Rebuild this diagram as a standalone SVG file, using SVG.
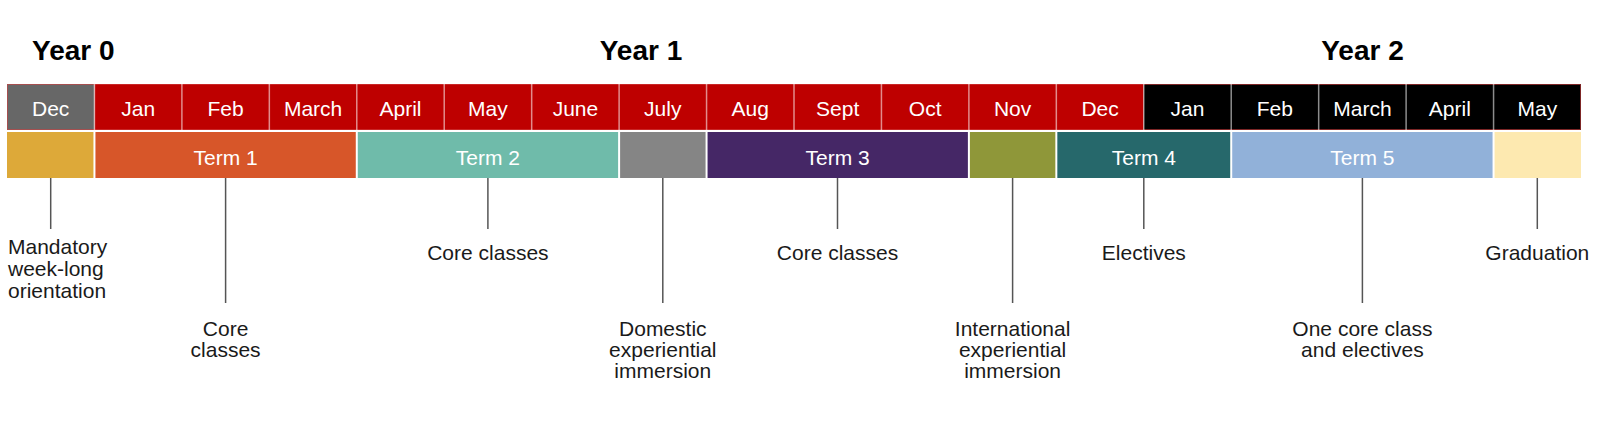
<svg xmlns="http://www.w3.org/2000/svg" width="1600" height="426" viewBox="0 0 1600 426">
<style>
.yr{font-family:"Liberation Sans",Arial,sans-serif;font-weight:bold;font-size:28px;fill:#000}
.mo{font-family:"Liberation Sans",Arial,sans-serif;font-size:21px;fill:#fff;text-anchor:middle}
.tm{font-family:"Liberation Sans",Arial,sans-serif;font-size:21px;fill:#fff;text-anchor:middle}
.lb{font-family:"Liberation Sans",Arial,sans-serif;font-size:21px;fill:#1a1a1a;text-anchor:middle}
.lbs{font-family:"Liberation Sans",Arial,sans-serif;font-size:21px;fill:#1a1a1a;text-anchor:start}
.red{fill:#BE0000}.blk{fill:#000}.gry{fill:#676767}
.div{stroke:#fff;stroke-opacity:0.55;stroke-width:1.5}
.ln{stroke:#555;stroke-width:1.5;fill:none}
</style>
<rect width="1600" height="426" fill="#fff"/>
<g id="years">
<text class="yr" x="32" y="60">Year 0</text>
<text class="yr" x="641" y="60" text-anchor="middle">Year 1</text>
<text class="yr" x="1362.5" y="60" text-anchor="middle">Year 2</text>
</g>
<g id="months">
<rect class="gry" x="7" y="84" width="87.44" height="46"/>
<rect class="red" x="94.44" y="84" width="1049.34" height="46"/>
<rect class="blk" x="1143.78" y="84" width="437.22" height="46"/>
<rect x="7.5" y="84.5" width="1573" height="45" fill="none" stroke="#d04040" stroke-opacity="0.6" stroke-width="1"/>
<g>
<line class="div" x1="94.44" y1="84" x2="94.44" y2="130"/>
<line class="div" x1="181.89" y1="84" x2="181.89" y2="130"/>
<line class="div" x1="269.33" y1="84" x2="269.33" y2="130"/>
<line class="div" x1="356.78" y1="84" x2="356.78" y2="130"/>
<line class="div" x1="444.22" y1="84" x2="444.22" y2="130"/>
<line class="div" x1="531.67" y1="84" x2="531.67" y2="130"/>
<line class="div" x1="619.11" y1="84" x2="619.11" y2="130"/>
<line class="div" x1="706.56" y1="84" x2="706.56" y2="130"/>
<line class="div" x1="794" y1="84" x2="794" y2="130"/>
<line class="div" x1="881.44" y1="84" x2="881.44" y2="130"/>
<line class="div" x1="968.89" y1="84" x2="968.89" y2="130"/>
<line class="div" x1="1056.33" y1="84" x2="1056.33" y2="130"/>
<line class="div" x1="1143.78" y1="84" x2="1143.78" y2="130"/>
<line class="div" x1="1231.22" y1="84" x2="1231.22" y2="130"/>
<line class="div" x1="1318.67" y1="84" x2="1318.67" y2="130"/>
<line class="div" x1="1406.11" y1="84" x2="1406.11" y2="130"/>
<line class="div" x1="1493.56" y1="84" x2="1493.56" y2="130"/>
</g>
<text class="mo" x="50.7" y="115.5">Dec</text>
<text class="mo" x="138.2" y="115.5">Jan</text>
<text class="mo" x="225.6" y="115.5">Feb</text>
<text class="mo" x="313.1" y="115.5">March</text>
<text class="mo" x="400.5" y="115.5">April</text>
<text class="mo" x="487.9" y="115.5">May</text>
<text class="mo" x="575.4" y="115.5">June</text>
<text class="mo" x="662.8" y="115.5">July</text>
<text class="mo" x="750.3" y="115.5">Aug</text>
<text class="mo" x="837.7" y="115.5">Sept</text>
<text class="mo" x="925.2" y="115.5">Oct</text>
<text class="mo" x="1012.6" y="115.5">Nov</text>
<text class="mo" x="1100.1" y="115.5">Dec</text>
<text class="mo" x="1187.5" y="115.5">Jan</text>
<text class="mo" x="1274.9" y="115.5">Feb</text>
<text class="mo" x="1362.4" y="115.5">March</text>
<text class="mo" x="1449.8" y="115.5">April</text>
<text class="mo" x="1537.3" y="115.5">May</text>
</g>
<g id="terms">
<rect id="orientation" x="7" y="132" width="86.44" height="46" fill="#DDA939"/>
<g id="term1"><rect x="95.44" y="132" width="260.34" height="46" fill="#D75629"/><text class="tm" x="225.6" y="165">Term 1</text></g>
<g id="term2"><rect x="357.78" y="132" width="260.33" height="46" fill="#6FBBAA"/><text class="tm" x="487.9" y="165">Term 2</text></g>
<rect id="domestic" x="620.11" y="132" width="85.45" height="46" fill="#858585"/>
<g id="term3"><rect x="707.56" y="132" width="260.33" height="46" fill="#452766"/><text class="tm" x="837.7" y="165">Term 3</text></g>
<rect id="international" x="969.89" y="132" width="85.44" height="46" fill="#8F9739"/>
<g id="term4"><rect x="1057.33" y="132" width="172.89" height="46" fill="#26686B"/><text class="tm" x="1143.8" y="165">Term 4</text></g>
<g id="term5"><rect x="1232.22" y="132" width="260.34" height="46" fill="#91B1D9"/><text class="tm" x="1362.4" y="165">Term 5</text></g>
<rect id="graduation" x="1494.56" y="132" width="86.44" height="46" fill="#FDE9B0"/>
</g>
<g id="connectors">
<line class="ln" x1="50.7" y1="178" x2="50.7" y2="229"/>
<line class="ln" x1="225.6" y1="178" x2="225.6" y2="303"/>
<line class="ln" x1="487.9" y1="178" x2="487.9" y2="229"/>
<line class="ln" x1="662.8" y1="178" x2="662.8" y2="303"/>
<line class="ln" x1="837.5" y1="178" x2="837.5" y2="229"/>
<line class="ln" x1="1012.6" y1="178" x2="1012.6" y2="303"/>
<line class="ln" x1="1143.8" y1="178" x2="1143.8" y2="229"/>
<line class="ln" x1="1362.4" y1="178" x2="1362.4" y2="303"/>
<line class="ln" x1="1537.3" y1="178" x2="1537.3" y2="229"/>
</g>
<g id="labels">
<g id="lbl-orientation"><text class="lbs" x="8" y="254">Mandatory</text><text class="lbs" x="8" y="276">week-long</text><text class="lbs" x="8" y="298">orientation</text></g>
<g id="lbl-term1"><text class="lb" x="225.6" y="336">Core</text><text class="lb" x="225.6" y="357">classes</text></g>
<g id="lbl-term2"><text class="lb" x="487.9" y="260">Core classes</text></g>
<g id="lbl-domestic"><text class="lb" x="662.8" y="336">Domestic</text><text class="lb" x="662.8" y="357">experiential</text><text class="lb" x="662.8" y="378">immersion</text></g>
<g id="lbl-term3"><text class="lb" x="837.5" y="260">Core classes</text></g>
<g id="lbl-international"><text class="lb" x="1012.6" y="336">International</text><text class="lb" x="1012.6" y="357">experiential</text><text class="lb" x="1012.6" y="378">immersion</text></g>
<g id="lbl-term4"><text class="lb" x="1143.8" y="260">Electives</text></g>
<g id="lbl-term5"><text class="lb" x="1362.4" y="336">One core class</text><text class="lb" x="1362.4" y="357">and electives</text></g>
<g id="lbl-graduation"><text class="lb" x="1537.3" y="260">Graduation</text></g>
</g>
</svg>
